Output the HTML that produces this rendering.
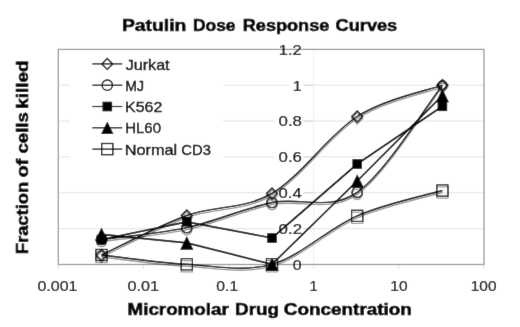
<!DOCTYPE html>
<html><head><meta charset="utf-8"><style>
html,body{margin:0;padding:0;background:#fff;width:520px;height:327px;overflow:hidden}
svg{display:block}
</style></head><body>
<svg width="520" height="327" viewBox="0 0 520 327">
<defs><filter id="sh" x="-20%" y="-20%" width="140%" height="140%"><feGaussianBlur in="SourceAlpha" stdDeviation="0.7"/><feOffset dx="0.2" dy="1.6" result="b"/><feComponentTransfer><feFuncA type="linear" slope="0.4"/></feComponentTransfer><feMerge><feMergeNode/><feMergeNode in="SourceGraphic"/></feMerge></filter><filter id="gb" x="0" y="0" width="520" height="327" filterUnits="userSpaceOnUse"><feConvolveMatrix order="3" kernelMatrix="0.00524 0.06192 0.00524 0.06192 0.73137 0.06192 0.00524 0.06192 0.00524" edgeMode="duplicate" preserveAlpha="true"/></filter></defs>
<rect width="520" height="327" fill="#fff"/>
<g filter="url(#gb)">
<rect width="520" height="327" fill="#fff"/>
<line x1="58.3" y1="228.7" x2="484.0" y2="228.7" stroke="#e2e2e2" stroke-width="1"/>
<line x1="58.3" y1="192.8" x2="484.0" y2="192.8" stroke="#e2e2e2" stroke-width="1"/>
<line x1="58.3" y1="156.9" x2="484.0" y2="156.9" stroke="#e2e2e2" stroke-width="1"/>
<line x1="58.3" y1="121.1" x2="484.0" y2="121.1" stroke="#e2e2e2" stroke-width="1"/>
<line x1="58.3" y1="85.2" x2="484.0" y2="85.2" stroke="#e2e2e2" stroke-width="1"/>
<line x1="313.7" y1="49.4" x2="313.7" y2="264.5" stroke="#f2f2f2" stroke-width="1.2"/>
<line x1="58.3" y1="264.5" x2="58.3" y2="269.0" stroke="#e4e4e4" stroke-width="1"/>
<line x1="143.4" y1="264.5" x2="143.4" y2="269.0" stroke="#e4e4e4" stroke-width="1"/>
<line x1="228.6" y1="264.5" x2="228.6" y2="269.0" stroke="#e4e4e4" stroke-width="1"/>
<line x1="313.7" y1="264.5" x2="313.7" y2="269.0" stroke="#e4e4e4" stroke-width="1"/>
<line x1="398.9" y1="264.5" x2="398.9" y2="269.0" stroke="#e4e4e4" stroke-width="1"/>
<line x1="484.0" y1="264.5" x2="484.0" y2="269.0" stroke="#e4e4e4" stroke-width="1"/>
<rect x="274.2" y="222.2" width="29.3" height="13" fill="#fff"/>
<rect x="274.2" y="186.3" width="29.3" height="13" fill="#fff"/>
<rect x="274.2" y="150.4" width="29.3" height="13" fill="#fff"/>
<rect x="274.2" y="114.6" width="29.3" height="13" fill="#fff"/>
<rect x="289.0" y="78.8" width="14.5" height="13" fill="#fff"/>
<line x1="303.7" y1="264.5" x2="313.7" y2="264.5" stroke="#d6d6d6" stroke-width="1"/>
<line x1="303.7" y1="228.7" x2="313.7" y2="228.7" stroke="#d6d6d6" stroke-width="1"/>
<line x1="303.7" y1="192.8" x2="313.7" y2="192.8" stroke="#d6d6d6" stroke-width="1"/>
<line x1="303.7" y1="156.9" x2="313.7" y2="156.9" stroke="#d6d6d6" stroke-width="1"/>
<line x1="303.7" y1="121.1" x2="313.7" y2="121.1" stroke="#d6d6d6" stroke-width="1"/>
<line x1="303.7" y1="85.2" x2="313.7" y2="85.2" stroke="#d6d6d6" stroke-width="1"/>
<line x1="303.7" y1="49.4" x2="313.7" y2="49.4" stroke="#d6d6d6" stroke-width="1"/>
<rect x="58.3" y="49.4" width="425.7" height="215.1" fill="none" stroke="#9c9c9c" stroke-width="1.3"/>
<rect x="70" y="52" width="153" height="108" fill="#fff"/>
<text x="292.78" y="269.80" font-size="15.00" font-family="Liberation Sans, sans-serif" fill="#000" textLength="8.84" lengthAdjust="spacingAndGlyphs" stroke="#000" stroke-width="0.2">0</text>
<text x="278.54" y="233.95" font-size="15.00" font-family="Liberation Sans, sans-serif" fill="#000" textLength="23.51" lengthAdjust="spacingAndGlyphs" stroke="#000" stroke-width="0.2">0.2</text>
<text x="278.55" y="198.10" font-size="15.00" font-family="Liberation Sans, sans-serif" fill="#000" textLength="23.14" lengthAdjust="spacingAndGlyphs" stroke="#000" stroke-width="0.2">0.4</text>
<text x="278.54" y="162.25" font-size="15.00" font-family="Liberation Sans, sans-serif" fill="#000" textLength="23.40" lengthAdjust="spacingAndGlyphs" stroke="#000" stroke-width="0.2">0.6</text>
<text x="278.54" y="126.40" font-size="15.00" font-family="Liberation Sans, sans-serif" fill="#000" textLength="23.39" lengthAdjust="spacingAndGlyphs" stroke="#000" stroke-width="0.2">0.8</text>
<text x="292.76" y="90.55" font-size="15.00" font-family="Liberation Sans, sans-serif" fill="#000" textLength="9.03" lengthAdjust="spacingAndGlyphs" stroke="#000" stroke-width="0.2">1</text>
<text x="278.85" y="54.70" font-size="15.00" font-family="Liberation Sans, sans-serif" fill="#000" textLength="22.77" lengthAdjust="spacingAndGlyphs" stroke="#000" stroke-width="0.2">1.2</text>
<text x="37.48" y="291.20" font-size="15.00" font-family="Liberation Sans, sans-serif" fill="#000" textLength="40.01" lengthAdjust="spacingAndGlyphs" stroke="#000" stroke-width="0.2">0.001</text>
<text x="127.62" y="291.20" font-size="15.00" font-family="Liberation Sans, sans-serif" fill="#000" textLength="31.42" lengthAdjust="spacingAndGlyphs" stroke="#000" stroke-width="0.2">0.01</text>
<text x="216.39" y="291.20" font-size="15.00" font-family="Liberation Sans, sans-serif" fill="#000" textLength="21.88" lengthAdjust="spacingAndGlyphs" stroke="#000" stroke-width="0.2">0.1</text>
<text x="309.59" y="291.20" font-size="15.00" font-family="Liberation Sans, sans-serif" fill="#000" textLength="8.13" lengthAdjust="spacingAndGlyphs" stroke="#000" stroke-width="0.2">1</text>
<text x="390.32" y="291.20" font-size="15.00" font-family="Liberation Sans, sans-serif" fill="#000" textLength="17.29" lengthAdjust="spacingAndGlyphs" stroke="#000" stroke-width="0.2">10</text>
<text x="470.72" y="291.20" font-size="15.00" font-family="Liberation Sans, sans-serif" fill="#000" textLength="25.78" lengthAdjust="spacingAndGlyphs" stroke="#000" stroke-width="0.2">100</text>
<g filter="url(#sh)">
<path d="M101.50,255.00 C115.72,248.42 158.38,225.77 186.80,215.50 C215.22,205.23 243.60,209.90 272.00,193.40 C300.40,176.90 328.80,134.55 357.20,116.50 C385.60,98.45 428.20,90.33 442.40,85.10" fill="none" stroke="#000" stroke-width="1.4" stroke-linejoin="round"/>
<path d="M101.50,249.50 L107.00,255.00 L101.50,260.50 L96.00,255.00 Z" fill="#fff" fill-opacity="0" stroke="#000" stroke-width="1.35"/>
<path d="M186.80,210.00 L192.30,215.50 L186.80,221.00 L181.30,215.50 Z" fill="#fff" fill-opacity="0" stroke="#000" stroke-width="1.35"/>
<path d="M272.00,187.90 L277.50,193.40 L272.00,198.90 L266.50,193.40 Z" fill="#fff" fill-opacity="0" stroke="#000" stroke-width="1.35"/>
<path d="M357.20,111.00 L362.70,116.50 L357.20,122.00 L351.70,116.50 Z" fill="#fff" fill-opacity="0" stroke="#000" stroke-width="1.35"/>
<path d="M442.40,79.60 L447.90,85.10 L442.40,90.60 L436.90,85.10 Z" fill="#fff" fill-opacity="0" stroke="#000" stroke-width="1.35"/>
</g>
<g filter="url(#sh)">
<path d="M101.50,239.50 C115.72,237.52 158.38,233.77 186.80,227.60 C215.22,221.43 243.60,208.38 272.00,202.50 C300.40,196.62 328.80,211.87 357.20,192.30 C385.60,172.73 428.20,102.97 442.40,85.10" fill="none" stroke="#000" stroke-width="1.4" stroke-linejoin="round"/>
<circle cx="101.50" cy="239.50" r="5.2" fill="#fff" fill-opacity="0" stroke="#000" stroke-width="1.3"/>
<circle cx="186.80" cy="227.60" r="5.2" fill="#fff" fill-opacity="0" stroke="#000" stroke-width="1.3"/>
<circle cx="272.00" cy="202.50" r="5.2" fill="#fff" fill-opacity="0" stroke="#000" stroke-width="1.3"/>
<circle cx="357.20" cy="192.30" r="5.2" fill="#fff" fill-opacity="0" stroke="#000" stroke-width="1.3"/>
<circle cx="442.40" cy="85.10" r="4.3" fill="none" stroke="#000" stroke-width="1.3"/>
</g>
<g>
<path d="M101.50,239.50 L186.80,221.80 L272.00,238.00 L357.20,164.00 L442.40,106.30" fill="none" stroke="#000" stroke-width="1.7" stroke-linejoin="round"/>
<rect x="96.70" y="234.70" width="9.60" height="9.60" fill="#000"/>
<rect x="182.00" y="217.00" width="9.60" height="9.60" fill="#000"/>
<rect x="267.20" y="233.20" width="9.60" height="9.60" fill="#000"/>
<rect x="352.40" y="159.20" width="9.60" height="9.60" fill="#000"/>
<rect x="437.60" y="101.50" width="9.60" height="9.60" fill="#000"/>
</g>
<g>
<path d="M101.50,234.30 L186.80,242.90 L272.00,264.30 L357.20,181.00 L442.40,95.50" fill="none" stroke="#000" stroke-width="1.7" stroke-linejoin="round"/>
<path d="M101.50,227.50 L108.10,241.10 L94.90,241.10 Z" fill="#000"/>
<path d="M186.80,236.10 L193.40,249.70 L180.20,249.70 Z" fill="#000"/>
<path d="M272.00,257.50 L278.60,271.10 L265.40,271.10 Z" fill="#000"/>
<path d="M357.20,174.20 L363.80,187.80 L350.60,187.80 Z" fill="#000"/>
<path d="M442.40,88.70 L449.00,102.30 L435.80,102.30 Z" fill="#000"/>
</g>
<g filter="url(#sh)">
<path d="M101.50,255.00 C115.72,256.55 158.38,262.75 186.80,264.30 C215.22,265.85 243.60,272.38 272.00,264.30 C300.40,256.22 328.80,228.10 357.20,215.80 C385.60,203.50 428.20,194.72 442.40,190.50" fill="none" stroke="#000" stroke-width="1.4" stroke-linejoin="round"/>
<rect x="95.90" y="249.40" width="11.20" height="11.20" fill="#fff" fill-opacity="0" stroke="#000" stroke-width="1.15"/>
<rect x="181.20" y="258.70" width="11.20" height="11.20" fill="#fff" fill-opacity="0" stroke="#000" stroke-width="1.15"/>
<rect x="266.40" y="258.70" width="11.20" height="11.20" fill="#fff" fill-opacity="0" stroke="#000" stroke-width="1.15"/>
<rect x="351.60" y="210.20" width="11.20" height="11.20" fill="#fff" fill-opacity="0" stroke="#000" stroke-width="1.15"/>
<rect x="436.80" y="184.90" width="11.20" height="11.20" fill="#fff" fill-opacity="0" stroke="#000" stroke-width="1.15"/>
</g>
<line x1="92.3" y1="63.9" x2="122.3" y2="63.9" stroke="#000" stroke-width="1.2"/>
<path d="M107.30,58.40 L112.80,63.90 L107.30,69.40 L101.80,63.90 Z" fill="#fff" fill-opacity="0" stroke="#000" stroke-width="1.35"/>
<text x="125.65" y="69.50" font-size="14.80" font-family="Liberation Sans, sans-serif" fill="#000" textLength="43.97" lengthAdjust="spacingAndGlyphs" stroke="#000" stroke-width="0.35">Jurkat</text>
<line x1="92.3" y1="85.2" x2="122.3" y2="85.2" stroke="#000" stroke-width="1.2"/>
<circle cx="107.30" cy="85.20" r="5.2" fill="#fff" fill-opacity="0" stroke="#000" stroke-width="1.3"/>
<text x="125.24" y="90.80" font-size="14.80" font-family="Liberation Sans, sans-serif" fill="#000" textLength="18.80" lengthAdjust="spacingAndGlyphs" stroke="#000" stroke-width="0.35">MJ</text>
<line x1="92.3" y1="106.5" x2="122.3" y2="106.5" stroke="#000" stroke-width="1.2"/>
<rect x="102.50" y="101.70" width="9.60" height="9.60" fill="#000"/>
<text x="125.09" y="112.10" font-size="14.80" font-family="Liberation Sans, sans-serif" fill="#000" textLength="37.21" lengthAdjust="spacingAndGlyphs" stroke="#000" stroke-width="0.35">K562</text>
<line x1="92.3" y1="127.8" x2="122.3" y2="127.8" stroke="#000" stroke-width="1.2"/>
<path d="M107.30,121.50 L113.50,134.10 L101.10,134.10 Z" fill="#000"/>
<text x="125.17" y="133.40" font-size="14.80" font-family="Liberation Sans, sans-serif" fill="#000" textLength="35.81" lengthAdjust="spacingAndGlyphs" stroke="#000" stroke-width="0.35">HL60</text>
<line x1="92.3" y1="149.1" x2="122.3" y2="149.1" stroke="#000" stroke-width="1.2"/>
<rect x="101.70" y="143.50" width="11.20" height="11.20" fill="#fff" fill-opacity="0" stroke="#000" stroke-width="1.3"/>
<text x="124.66" y="154.70" font-size="14.80" font-family="Liberation Sans, sans-serif" fill="#000" textLength="52.53" lengthAdjust="spacingAndGlyphs" stroke="#000" stroke-width="0.35">Normal</text>
<text x="181.25" y="154.70" font-size="14.80" font-family="Liberation Sans, sans-serif" fill="#000" textLength="29.71" lengthAdjust="spacingAndGlyphs" stroke="#000" stroke-width="0.35">CD3</text>
<text x="121.91" y="31.10" font-size="16.50" font-weight="bold" font-family="Liberation Sans, sans-serif" fill="#000" textLength="64.49" lengthAdjust="spacingAndGlyphs" stroke="#000" stroke-width="0.6">Patulin</text>
<text x="192.94" y="31.10" font-size="16.50" font-weight="bold" font-family="Liberation Sans, sans-serif" fill="#000" textLength="42.56" lengthAdjust="spacingAndGlyphs" stroke="#000" stroke-width="0.6">Dose</text>
<text x="242.79" y="31.10" font-size="16.50" font-weight="bold" font-family="Liberation Sans, sans-serif" fill="#000" textLength="86.53" lengthAdjust="spacingAndGlyphs" stroke="#000" stroke-width="0.6">Response</text>
<text x="335.55" y="31.10" font-size="16.50" font-weight="bold" font-family="Liberation Sans, sans-serif" fill="#000" textLength="61.69" lengthAdjust="spacingAndGlyphs" stroke="#000" stroke-width="0.6">Curves</text>
<text x="127.54" y="315.00" font-size="16.50" font-weight="bold" font-family="Liberation Sans, sans-serif" fill="#000" textLength="101.24" lengthAdjust="spacingAndGlyphs" stroke="#000" stroke-width="0.6">Micromolar</text>
<text x="235.14" y="315.00" font-size="16.50" font-weight="bold" font-family="Liberation Sans, sans-serif" fill="#000" textLength="44.02" lengthAdjust="spacingAndGlyphs" stroke="#000" stroke-width="0.6">Drug</text>
<text x="283.83" y="315.00" font-size="16.50" font-weight="bold" font-family="Liberation Sans, sans-serif" fill="#000" textLength="128.05" lengthAdjust="spacingAndGlyphs" stroke="#000" stroke-width="0.6">Concentration</text>
<text x="-1.23" y="0.00" font-size="16.50" font-weight="bold" font-family="Liberation Sans, sans-serif" fill="#000" textLength="72.47" lengthAdjust="spacingAndGlyphs" transform="translate(27.8,253) rotate(-90)" stroke="#000" stroke-width="0.6">Fraction</text>
<text x="75.42" y="0.00" font-size="16.50" font-weight="bold" font-family="Liberation Sans, sans-serif" fill="#000" textLength="18.74" lengthAdjust="spacingAndGlyphs" transform="translate(27.8,253) rotate(-90)" stroke="#000" stroke-width="0.6">of</text>
<text x="99.47" y="0.00" font-size="16.50" font-weight="bold" font-family="Liberation Sans, sans-serif" fill="#000" textLength="41.39" lengthAdjust="spacingAndGlyphs" transform="translate(27.8,253) rotate(-90)" stroke="#000" stroke-width="0.6">cells</text>
<text x="144.28" y="0.00" font-size="16.50" font-weight="bold" font-family="Liberation Sans, sans-serif" fill="#000" textLength="48.26" lengthAdjust="spacingAndGlyphs" transform="translate(27.8,253) rotate(-90)" stroke="#000" stroke-width="0.6">killed</text>
</g>
</svg>
</body></html>
